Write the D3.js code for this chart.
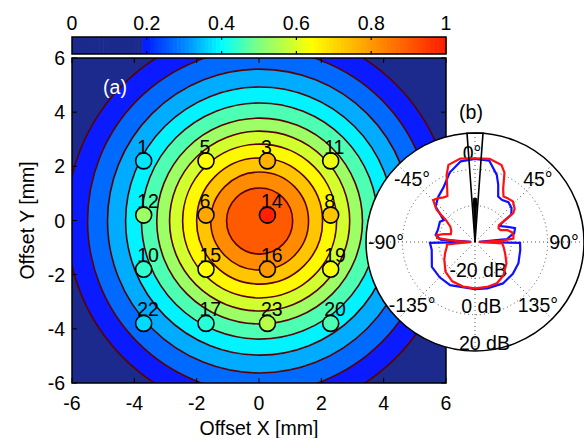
<!DOCTYPE html>
<html><head><meta charset="utf-8">
<script src="https://cdn.jsdelivr.net/npm/d3@7"></script>
<style>
body{margin:0;background:#fff}
svg{display:block;font-family:"Liberation Sans",Arial,sans-serif}
</style></head>
<body><svg id="chart" width="584" height="438"></svg>
<script>
// ---------- data ----------
const xTickValues = [-6, -4, -2, 0, 2, 4, 6];
const yTickValues = [-6, -4, -2, 0, 2, 4, 6];
const colorbarTicks = [0, 0.2, 0.4, 0.6, 0.8, 1];
const colorbarInnerTicks = [0.2, 0.4, 0.6, 0.8];
const colormapStops  = [0, 0.185, 0.19, 0.2, 0.3, 0.4, 0.5, 0.64, 0.8, 1];
const colormapColors = ['#1b2a8c', '#1b2a8c', '#0a1cff', '#0020ff', '#0088ff', '#00ffff', '#80ff80', '#ffff00', '#ff9900', '#ff1a00'];

// filled contour levels (outer -> inner) and their half widths in mm
const contourLevels      = [0.19, 0.27, 0.33, 0.39, 0.46, 0.53, 0.59, 0.65, 0.73, 0.82, 0.9];
const contourHalfWidthX  = [6.19, 5.52, 4.88, 4.30, 3.79, 3.30, 2.89, 2.47, 2.02, 1.57, 1.06];
const contourHalfHeightY = [7.13, 6.35, 5.61, 4.95, 4.36, 3.80, 3.32, 2.84, 2.33, 1.81, 1.22];
const contourCenterX = 0.02;
const contourCenterY = -0.02;

// sensor positions
const sensorIds    = [1, 5, 3, 11, 12, 6, 14, 8, 10, 15, 16, 19, 22, 17, 23, 20];
const sensorX      = [-3.7, -1.7, 0.27, 2.3, -3.7, -1.7, 0.27, 2.3, -3.7, -1.7, 0.27, 2.3, -3.7, -1.7, 0.27, 2.3];
const sensorY      = [2.2, 2.2, 2.2, 2.2, 0.2, 0.2, 0.2, 0.2, -1.8, -1.8, -1.8, -1.8, -3.8, -3.8, -3.8, -3.8];
const sensorValues = [0.38, 0.64, 0.76, 0.62, 0.53, 0.78, 0.99, 0.73, 0.44, 0.64, 0.8, 0.63, 0.37, 0.43, 0.56, 0.46];

// polar inset (b): angle in degrees (clockwise from top), gain in dB
const polarAngleLabels = [0, 45, 90, 135, -45, -90, -135];
const polarSpokes = [0, 45, 90, 135, 180, 225, 270, 315];
const polarRings = [-20, 0, 20];
const polarDomain = [-40, 20];
const redAngles = [-180,-165,-150,-135,-120,-110,-100,-95,-90,-87,-84,-80,-76,-72,-65,-58,-53,-50,-45,-40,-35,-31,-28,-23,-19,-10,0,10,19,23,28,32,36,43,50,53,55,60,65,70,75,80,85,87,90,93,100,110,124,140,152,165];
const redDb     = [-14.5,-14.6,-15,-17,-20.5,-22.5,-24.2,-24.5,-38,-30,-19,-18.6,-22,-26,-25.6,-24,-20,-12.5,-7.4,-8.5,-10,-10.5,-7.4,0,4.9,6.6,6.1,6.5,4.8,1.5,-7,-10.4,-10,-9.4,-11.5,-13.6,-24,-25,-24.5,-21,-19,-18.5,-18.8,-25,-38,-25,-24,-22.4,-19.1,-15.8,-14.3,-14.4];
const blueAngles = [-180,-150,-135,-120,-100,-91,-89,-86,-80,-72,-60,-55,-48,-39,-30,-20,-10,0,10,18,22,27,33,40,47,53,55,58,65,71,78,81,85,89,91,100,116,130,146,165];
const blueDb     = [-14.1,-12.6,-12.5,-12.6,-15.8,-15.2,-37.8,-21,-18,-18.5,-17.7,-19,-10.8,-7.9,-5.3,0.7,5.1,5.7,5.4,-1.2,-5.9,-11.9,-12.5,-11.4,-12.5,-15,-22.4,-23.5,-20.2,-16.7,-18,-20.5,-22.4,-37.8,-15.2,-14.7,-13.4,-12.8,-12.5,-13.6];
const beamAngles = [0, -4.2, 4.2];
const beamDb     = [-40, 20, 20];
const beamCoreAngles = [0, -2.2, 2.2];
const beamCoreDb     = [-40, -16, -16];

// ---------- drawing ----------
const svg = d3.select('#chart');
const FONT = 19.5;
const plot = {left: 72, right: 446, top: 58, bottom: 383};
const x = d3.scaleLinear().domain([-6, 6]).range([plot.left, plot.right]);
const y = d3.scaleLinear().domain([-6, 6]).range([plot.bottom, plot.top]);
const cmap = d3.scaleLinear().domain(colormapStops).range(colormapColors).clamp(true);

svg.append('clipPath').attr('id', 'plotClip').append('rect')
  .attr('x', plot.left).attr('y', plot.top)
  .attr('width', plot.right - plot.left).attr('height', plot.bottom - plot.top);

const field = svg.append('g').attr('clip-path', 'url(#plotClip)');
field.append('rect').attr('x', plot.left).attr('y', plot.top)
  .attr('width', plot.right - plot.left).attr('height', plot.bottom - plot.top)
  .attr('fill', cmap(0));
const contours = contourLevels.map((lv, i) => ({lv, hw: contourHalfWidthX[i], hh: contourHalfHeightY[i]}));
field.selectAll('ellipse').data(contours).join('ellipse')
  .attr('cx', x(contourCenterX)).attr('cy', y(contourCenterY))
  .attr('rx', d => x(contourCenterX + d.hw) - x(contourCenterX))
  .attr('ry', d => y(contourCenterY) - y(contourCenterY + d.hh))
  .attr('fill', d => cmap(d.lv))
  .attr('stroke', '#5a0000').attr('stroke-width', 1.6);

// axes frame + ticks
const axes = svg.append('g');
axes.append('rect').attr('x', plot.left).attr('y', plot.top)
  .attr('width', plot.right - plot.left).attr('height', plot.bottom - plot.top)
  .attr('fill', 'none').attr('stroke', '#000').attr('stroke-width', 1.5);
const TL = 5;
xTickValues.forEach(v => {
  axes.append('line').attr('x1', x(v)).attr('x2', x(v)).attr('y1', plot.bottom).attr('y2', plot.bottom - TL).attr('stroke', '#000');
  axes.append('line').attr('x1', x(v)).attr('x2', x(v)).attr('y1', plot.top).attr('y2', plot.top + TL).attr('stroke', '#000');
  axes.append('text').attr('x', x(v)).attr('y', 409.5).attr('text-anchor', 'middle')
    .attr('font-size', FONT).text(v);
});
yTickValues.forEach(v => {
  axes.append('line').attr('y1', y(v)).attr('y2', y(v)).attr('x1', plot.left).attr('x2', plot.left + TL).attr('stroke', '#000');
  axes.append('line').attr('y1', y(v)).attr('y2', y(v)).attr('x1', plot.right).attr('x2', plot.right - TL).attr('stroke', '#000');
  axes.append('text').attr('x', 65).attr('y', y(v) + 7).attr('text-anchor', 'end')
    .attr('font-size', FONT).text(v);
});
axes.append('text').attr('x', x(0)).attr('y', 435).attr('text-anchor', 'middle')
  .attr('font-size', FONT).text('Offset X [mm]');
axes.append('text').attr('transform', `translate(34,${y(0)}) rotate(-90)`).attr('text-anchor', 'middle')
  .attr('font-size', FONT).text('Offset Y [mm]');

// sensors
const sensors = sensorIds.map((id, i) => ({id, sx: sensorX[i], sy: sensorY[i], v: sensorValues[i]}));
const sg = svg.append('g');
sg.selectAll('circle').data(sensors).join('circle')
  .attr('cx', d => x(d.sx)).attr('cy', d => y(d.sy)).attr('r', 8)
  .attr('fill', d => cmap(d.v)).attr('stroke', '#000').attr('stroke-width', 1.6);
sg.selectAll('text').data(sensors).join('text')
  .attr('x', d => x(d.sx) - 6.5).attr('y', d => y(d.sy) - 7)
  .attr('font-size', FONT).attr('fill', '#000').text(d => d.id);

svg.append('text').attr('x', 115).attr('y', 94).attr('text-anchor', 'middle')
  .attr('font-size', FONT).attr('fill', '#fff').text('(a)');

// colorbar
const cb = {left: 72, right: 446, top: 37, bottom: 54};
const cx = d3.scaleLinear().domain([0, 1]).range([cb.left, cb.right]);
const steps = d3.range(0, 1, 1 / 96);
svg.append('g').selectAll('rect').data(steps).join('rect')
  .attr('x', d => cx(d)).attr('y', cb.top).attr('width', cx(1 / 96) - cx(0) + 0.6)
  .attr('height', cb.bottom - cb.top).attr('fill', d => cmap(d + 0.5 / 96));
svg.append('rect').attr('x', cb.left).attr('y', cb.top).attr('width', cb.right - cb.left)
  .attr('height', cb.bottom - cb.top).attr('fill', 'none').attr('stroke', '#000').attr('stroke-width', 1.5);
colorbarInnerTicks.forEach(v => {
  svg.append('line').attr('x1', cx(v)).attr('x2', cx(v)).attr('y1', cb.top).attr('y2', cb.top + 3).attr('stroke', '#000').attr('stroke-width', 1.2);
  svg.append('line').attr('x1', cx(v)).attr('x2', cx(v)).attr('y1', cb.bottom).attr('y2', cb.bottom - 3).attr('stroke', '#000').attr('stroke-width', 1.2);
});
colorbarTicks.forEach(v => {
  svg.append('text').attr('x', cx(v)).attr('y', 30).attr('text-anchor', 'middle')
    .attr('font-size', FONT).text(v);
});

// polar inset
const pc = {x: 475, y: 242, R: 109};
const rr = d3.scaleLinear().domain(polarDomain).range([0, pc.R]);
const pg = svg.append('g').attr('transform', `translate(${pc.x},${pc.y})`);
pg.append('circle').attr('r', pc.R).attr('fill', '#fff');
pg.selectAll('.ring').data(polarRings.slice(0, -1)).join('circle').attr('class', 'ring')
  .attr('r', d => rr(d)).attr('fill', 'none').attr('stroke', '#555')
  .attr('stroke-width', 1).attr('stroke-dasharray', '1 3');
pg.selectAll('.spoke').data(polarSpokes).join('line').attr('class', 'spoke')
  .attr('x1', 0).attr('y1', 0)
  .attr('x2', d => pc.R * Math.sin(d * Math.PI / 180))
  .attr('y2', d => -pc.R * Math.cos(d * Math.PI / 180))
  .attr('stroke', '#555').attr('stroke-width', 1).attr('stroke-dasharray', '1 3');
const LR = 89;
pg.selectAll('.alab').data(polarAngleLabels).join('text').attr('class', 'alab')
  .attr('x', d => LR * Math.sin(d * Math.PI / 180) - (d === 0 ? 3 : 0))
  .attr('y', d => -LR * Math.cos(d * Math.PI / 180) + 7)
  .attr('text-anchor', 'middle').attr('font-size', FONT).text(d => d + '°');
pg.selectAll('.rlab').data(polarRings).join('text').attr('class', 'rlab')
  .attr('x', d => rr(d) * Math.sin(175 * Math.PI / 180))
  .attr('y', d => -rr(d) * Math.cos(175 * Math.PI / 180) - 1)
  .attr('text-anchor', 'middle').attr('font-size', FONT).text(d => d + ' dB');

const radial = d3.lineRadial().angle(d => d.a * Math.PI / 180).radius(d => rr(d.db)).curve(d3.curveLinearClosed);
const toPts = (as, ds) => as.map((a, i) => ({a, db: ds[i]}));
pg.append('path').attr('d', radial(toPts(blueAngles, blueDb))).attr('fill', 'none')
  .attr('stroke', '#1010ff').attr('stroke-width', 2.2);
pg.append('path').attr('d', radial(toPts(redAngles, redDb))).attr('fill', 'none')
  .attr('stroke', '#ff1010').attr('stroke-width', 2.2);
pg.append('path').attr('d', radial(toPts(beamAngles, beamDb))).attr('fill', 'none')
  .attr('stroke', '#000').attr('stroke-width', 1.6);
pg.append('path').attr('d', radial(toPts(beamCoreAngles, beamCoreDb))).attr('fill', '#000')
  .attr('stroke', '#000').attr('stroke-width', 1);
pg.append('circle').attr('r', pc.R).attr('fill', 'none').attr('stroke', '#000').attr('stroke-width', 1.5);

svg.append('text').attr('x', 471).attr('y', 119).attr('text-anchor', 'middle')
  .attr('font-size', FONT).text('(b)');
</script>
</body></html>
